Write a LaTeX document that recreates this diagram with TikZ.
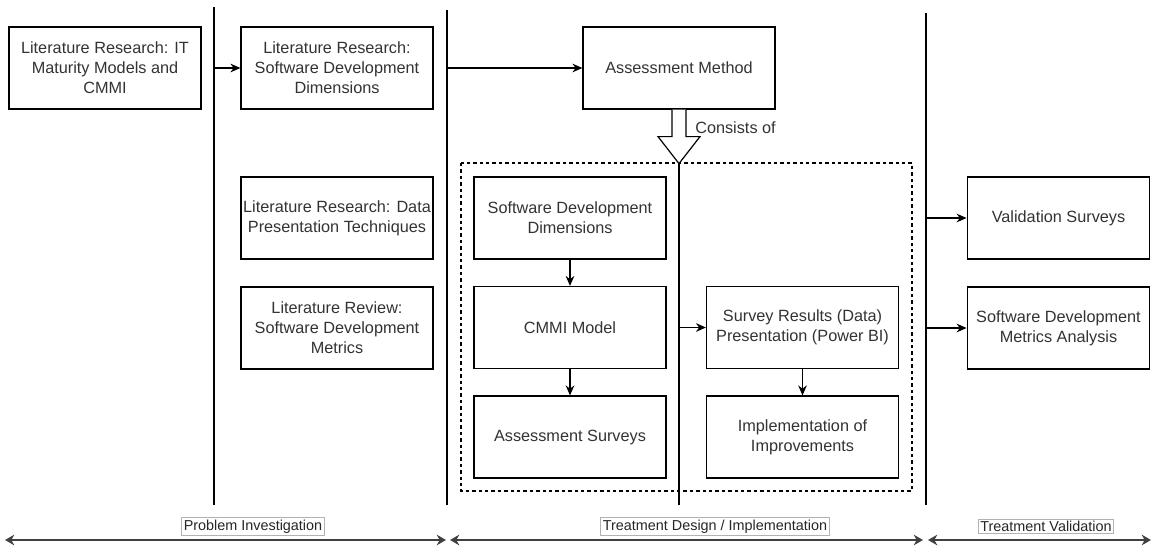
\documentclass[tikz,border=0pt]{standalone}
\usepackage{fontspec}
\setmainfont{Liberation Sans}
\usetikzlibrary{arrows.meta}
\begin{document}
\begin{tikzpicture}[x=0.75pt,y=-0.75pt,
  box/.style={draw=black, line width=0.9pt, fill=white, minimum width=144pt, minimum height=61.5pt,
    inner sep=1pt, align=center, text=black!80,
    font=\fontsize{12.2pt}{15pt}\selectfont},
  arr/.style={line width=0.9pt, -{Stealth[length=7.5pt,width=6.5pt]}},
  sep/.style={line width=0.9pt},
  phase/.style={line width=1.6pt, draw=black!75, {Stealth[length=7pt,width=8pt]}-{Stealth[length=7pt,width=8pt]}},
  plabel/.style={draw=black!30, line width=0.5pt, fill=white, inner xsep=1.5pt, inner ysep=1.5pt,
    text=black!85, font=\fontsize{10.8pt}{12pt}\selectfont},
  txt/.style={text=black!80, font=\fontsize{12.2pt}{15pt}\selectfont}]
\useasboundingbox (0,0) rectangle (1152,547);

% separators between phases
\coordinate (l1t) at (214,7);   \coordinate (l1b) at (214,505);
\coordinate (l2t) at (447,10);  \coordinate (l2b) at (447,505);
\coordinate (l4t) at (926,13);  \coordinate (l4b) at (926,505);
\coordinate (l3b) at (679,505);

% group of the assessment method parts
\draw[line width=0.8pt, dash pattern=on 2.6pt off 2.2pt] (461,163) rectangle (912,491);

% problem investigation
\node[box] (lit1) at (105,68) {Literature Research: IT\\Maturity Models and\\CMMI};
\node[box] (lit2) at (337,68) {Literature Research:\\Software Development\\Dimensions};
\node[box] (lit3) at (337,218) {Literature Research: Data\\Presentation Techniques};
\node[box] (lit4) at (337,328) {Literature Review:\\Software Development\\Metrics};

% treatment design
\node[box] (am) at (679,68) {Assessment Method};
\node[box] (sdd) at (570,218) {Software Development\\Dimensions};
\node[box] (cmmi) at (570,327.5) {CMMI Model};
\node[box] (asv) at (570,437) {Assessment Surveys};
\node[box] (srp) at (802.5,327.5) {Survey Results (Data)\\Presentation (Power BI)};
\node[box] (imp) at (802.5,437) {Implementation of\\Improvements};

% treatment validation
\node[box, minimum width=137pt] (val) at (1058.5,218) {Validation Surveys};
\node[box, minimum width=137pt] (met) at (1058.5,328) {Software Development\\Metrics Analysis};

% block arrow "consists of"
\draw[line width=0.9pt, fill=white] (am.south) ++(-7,0) -- ++(0,27) -- ++(-14,0)
  -- ++(21,27) coordinate (tip) -- ++(21,-27) -- ++(-14,0) -- ++(0,-27);
\node[txt, anchor=west, inner sep=0pt] (cons) at (695,128) {Consists of};

% separator lines
\draw[sep] (l1t) -- (l1b);
\draw[sep] (l2t) -- (l2b);
\draw[sep] (tip) -- (l3b);
\draw[sep] (l4t) -- (l4b);

% connectors
\draw[arr] (lit2.west -| l1t) -- (lit2.west);
\draw[arr] (am.west -| l2t) -- (am.west);
\draw[arr] (sdd) -- (cmmi);
\draw[arr] (cmmi) -- (asv);
\draw[arr] (srp) -- (imp);
\draw[arr] (srp.west -| tip) -- (srp.west);
\draw[arr] (val.west -| l4t) -- (val.west);
\draw[arr] (met.west -| l4t) -- (met.west);

% phase axis
\coordinate (p0) at (5,540);   \coordinate (p1) at (446,540);
\coordinate (p2) at (450,540); \coordinate (p3) at (923,540);
\coordinate (p4) at (928,540); \coordinate (p5) at (1151,540);
\draw[phase] (p0) -- (p1);
\draw[phase] (p2) -- (p3);
\draw[phase] (p4) -- (p5);
\node[plabel] (ph1) at (253,526.5) {Problem Investigation};
\node[plabel] (ph2) at (715,526.5) {Treatment Design / Implementation};
\node[plabel] (ph3) at (1046,526.5) {Treatment Validation};
\end{tikzpicture}
\end{document}
